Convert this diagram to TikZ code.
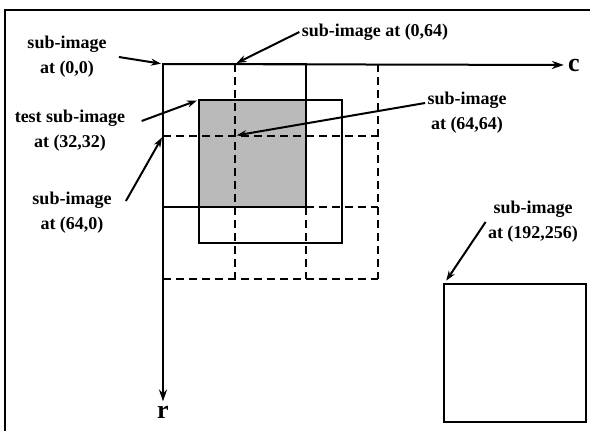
\documentclass[tikz,border=0pt]{standalone}
\usepackage{fontspec}
\setmainfont{Liberation Serif}
\usetikzlibrary{arrows.meta}
\tikzset{
	subbox/.style={draw, line width=1pt},
	gridbox/.style={draw, line width=1pt, dash pattern=on 4pt off 2.5pt},
	pointer/.style={-{Stealth[length=5pt, width=3.5pt]}, line width=1pt},
	axis/.style={-{Stealth[length=6pt, width=4pt]}, line width=1pt},
	tag/.style={font=\fontsize{9}{12.5}\selectfont\bfseries, align=center, inner sep=1pt},
	axlabel/.style={font=\fontsize{13}{15}\selectfont\bfseries, inner sep=2pt}
}

\begin{document}
\begin{tikzpicture}[x=0.5pt, y=-0.5pt]
	\useasboundingbox (0,0) rectangle (590,430);
	% page frame, right and bottom edges run off the page
	\draw[line width=1pt] (5,434) -- (5,10) -- (594,10);
	% sub-images in image units (c,r)
	\begin{scope}[shift={(163,64)}, x=0.56pt, y=-0.56pt]
		\fill[black!27] (32,32) rectangle (128,128);
		% outlines of the sub-images at (0,64), (64,0) and (64,64)
		\foreach \p in {64,192}
			\draw[gridbox] (\p,0) -- (\p,192) (0,\p) -- (192,\p);
		\draw[gridbox] (128,128) -- (128,192) (128,128) -- (192,128);
		\draw[subbox] (32,32) rectangle ++(128,128);
		\draw[subbox] (0,0) rectangle ++(128,128);
		\coordinate (t00) at (0,0);
		\coordinate (t064) at (64,0);
		\coordinate (t3232) at (32,32);
		\coordinate (t6464) at (64,64);
		\coordinate (t640) at (0,64);
	\end{scope}
	\draw[subbox] (444,284) rectangle (586,422);
	\coordinate (t192) at (444,284);
	% axes
	\node[axlabel] (clab) at (574,65) {c};
	\node[axlabel] (rlab) at (163,412) {r};
	\draw[axis] (t00) -- (clab);
	\draw[axis] (t00) -- (rlab);
	% labels
	\node[tag] (l00) at (67,57) {sub-image\\at (0,0)};
	\node[tag] (l064) at (375,32) {sub-image at (0,64)};
	\node[tag] (l3232) at (70,131) {test sub-image\\at (32,32)};
	\node[tag] (l6464) at (467,113) {sub-image\\at (64,64)};
	\node[tag] (l640) at (72,213) {sub-image\\at (64,0)};
	\node[tag] (l192) at (533,222) {sub-image\\at (192,256)};
	\draw[pointer, shorten >=1pt] ([xshift=5pt]l00.east) -- (t00);
	\draw[pointer, shorten >=1pt] (l064.west) -- (t064);
	\draw[pointer, shorten >=1pt] ([xshift=7pt, yshift=5pt]l3232.east) -- (t3232);
	\draw[pointer, shorten >=1pt] ([yshift=5pt]l6464.west) -- (t6464);
	\draw[pointer, shorten >=1pt] ([xshift=6pt, yshift=6pt]l640.east) -- (t640);
	\draw[pointer, shorten >=2pt] (l192.west) -- (t192);
\end{tikzpicture}
\end{document}
